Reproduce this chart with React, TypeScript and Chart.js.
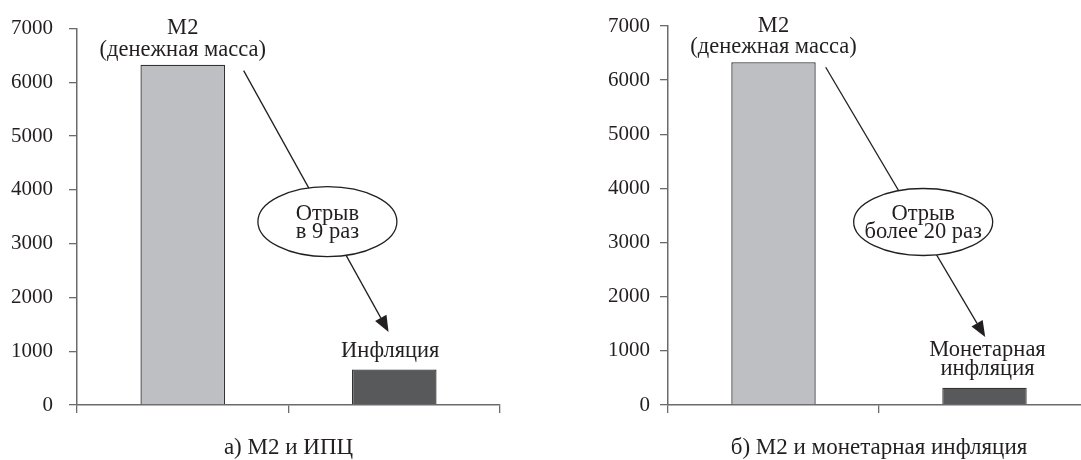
import React, { useEffect, useRef } from 'react';
import { Chart, registerables } from 'chart.js';

Chart.register(...registerables);

// ---- data ----
const categories = ['М2', 'Инфляция'];
const valuesA = [6330, 660];
const valuesB = [6330, 320];
const yMin = 0;
const yMax = 7000;
const yStep = 1000;
const barLabelsA = [['М2', '(денежная масса)'], ['Инфляция']];
const barLabelsB = [['М2', '(денежная масса)'], ['Монетарная', 'инфляция']];
const gapTextA = ['Отрыв', 'в 9 раз'];
const gapTextB = ['Отрыв', 'более 20 раз'];
const captionA = 'а) М2 и ИПЦ';
const captionB = 'б) М2 и монетарная инфляция';
const bubbleValueA = 3410;
const bubbleValueB = 3380;

// ---- styles ----
const FONT_FAMILY = '"Liberation Serif", "Times New Roman", serif';
const TICK_SIZE = 21;
const LABEL_SIZE = 22.5;
const CAPTION_SIZE = 23;
const TEXT = '#231f20';
const AXIS = '#6b6b6b';
const BAR_COLORS = ['#bebfc2', '#58595b'];
const BAR_BORDER = '#333333';

const annotPlugin = {
  id: 'annot',
  afterDatasetsDraw(chart: any, _args: any, opts: any) {
    const { ctx, chartArea } = chart;
    const meta = chart.getDatasetMeta(0);
    const b0 = meta.data[0] as any;
    const b1 = meta.data[1] as any;
    const yScale = chart.scales.y;
    ctx.save();
    ctx.fillStyle = TEXT;
    ctx.strokeStyle = TEXT;
    ctx.font = `${LABEL_SIZE}px ${FONT_FAMILY}`;
    ctx.textAlign = 'center';
    ctx.textBaseline = 'alphabetic';

    // bar labels
    (opts.barLabels as string[][]).forEach((lines, i) => {
      const bar = meta.data[i] as any;
      const gap = opts.labelGap[i];
      const lh = opts.labelLine[i];
      lines.forEach((t, k) => {
        const ty = bar.y - gap - (lines.length - 1 - k) * lh;
        ctx.fillText(t, bar.x + opts.labelDx[i], ty);
      });
    });

    // arrow
    const sx = b0.x + b0.width / 2 + opts.arrowStart[0];
    const sy = b0.y + opts.arrowStart[1];
    const ex = b1.x + opts.arrowEnd[0];
    const ey = b1.y + opts.arrowEnd[1];
    const ang = Math.atan2(ey - sy, ex - sx);
    const headLen = 16;
    const headHalf = 6.5;
    const bx = ex - headLen * Math.cos(ang);
    const by = ey - headLen * Math.sin(ang);
    ctx.lineWidth = 1.3;
    ctx.beginPath();
    ctx.moveTo(sx, sy);
    ctx.lineTo(bx, by);
    ctx.stroke();
    ctx.beginPath();
    ctx.moveTo(ex, ey);
    ctx.lineTo(bx + headHalf * Math.sin(ang), by - headHalf * Math.cos(ang));
    ctx.lineTo(bx - headHalf * Math.sin(ang), by + headHalf * Math.cos(ang));
    ctx.closePath();
    ctx.fill();

    // bubble
    const cy = yScale.getPixelForValue(opts.bubbleValue);
    const cx = sx + ((cy - sy) * (ex - sx)) / (ey - sy) + opts.bubbleDx;
    ctx.beginPath();
    ctx.ellipse(cx, cy, 69.5, opts.bubbleRy, 0, 0, Math.PI * 2);
    ctx.fillStyle = '#ffffff';
    ctx.fill();
    ctx.lineWidth = 1.3;
    ctx.stroke();
    ctx.fillStyle = TEXT;
    const gl = opts.gapText as string[];
    ctx.fillText(gl[0], cx, cy - 1.5);
    ctx.fillText(gl[1], cx, cy + 16.5);

    // caption
    ctx.font = `${CAPTION_SIZE}px ${FONT_FAMILY}`;
    ctx.fillText(opts.caption, (chartArea.left + chartArea.right) / 2, 454);
    ctx.restore();
  },
};

type PanelProps = {
  values: number[];
  left: number;
  width: number;
  axisWidth: number;
  tickPad: number;
  padRight: number;
  annot: any;
};

function Panel({ values, left, width, axisWidth, tickPad, padRight, annot }: PanelProps) {
  const ref = useRef<HTMLCanvasElement | null>(null);
  useEffect(() => {
    if (!ref.current) return;
    const font = { family: FONT_FAMILY, size: TICK_SIZE };
    const chart = new Chart(ref.current, {
      type: 'bar',
      data: {
        labels: categories,
        datasets: [
          {
            data: values,
            backgroundColor: BAR_COLORS,
            borderColor: BAR_BORDER,
            borderWidth: 1.3,
            barPercentage: 0.4,
            categoryPercentage: 1.0,
          },
        ],
      },
      plugins: [annotPlugin],
      options: {
        responsive: false,
        animation: false,
        devicePixelRatio: 1,
        layout: { padding: { left: 0, top: 26, right: padRight, bottom: 45 } },
        plugins: {
          legend: { display: false },
          tooltip: { enabled: false },
          title: { display: false },
          annot,
        } as any,
        scales: {
          x: {
            type: 'category',
            offset: true,
            grid: {
              offset: true,
              drawOnChartArea: false,
              drawTicks: true,
              tickLength: 8,
              color: AXIS,
              lineWidth: 1.3,
            },
            border: { display: true, color: AXIS, width: 1.5 },
            ticks: { display: false },
            afterFit: (s: any) => {
              s.height = 10;
            },
          },
          y: {
            min: yMin,
            max: yMax,
            grid: {
              drawOnChartArea: false,
              drawTicks: true,
              tickLength: 8,
              color: AXIS,
              lineWidth: 1.3,
            },
            border: { display: true, color: AXIS, width: 1.5 },
            ticks: {
              stepSize: yStep,
              color: TEXT,
              font,
              padding: tickPad,
              callback: (v: any) => String(v),
            },
            afterFit: (s: any) => {
              s.width = axisWidth;
            },
          },
        },
      } as any,
    });
    return () => chart.destroy();
  }, []);
  return (
    <div style={{ position: 'absolute', left, top: 0, width, height: 460 }}>
      <canvas ref={ref} width={width} height={460} style={{ display: 'block' }} />
    </div>
  );
}

export default function App() {
  return (
    <div
      style={{
        position: 'absolute',
        left: 0,
        top: 0,
        width: 1081,
        height: 460,
        overflow: 'hidden',
        background: '#ffffff',
      }}
    >
      <Panel
        values={valuesA}
        left={0}
        width={540}
        axisWidth={77}
        tickPad={16}
        padRight={40}
        annot={{
          barLabels: barLabelsA,
          labelGap: [9, 12.6],
          labelLine: [21.6, 19.5],
          labelDx: [0, -4],
          arrowStart: [18.6, 6],
          arrowEnd: [-5.7, -37.6],
          bubbleValue: bubbleValueA,
          bubbleDx: 0,
          bubbleRy: 35,
          gapText: gapTextA,
          caption: captionA,
        }}
      />
      <Panel
        values={valuesB}
        left={540}
        width={560}
        axisWidth={128}
        tickPad={10}
        padRight={10}
        annot={{
          barLabels: barLabelsB,
          labelGap: [9, 12.3],
          labelLine: [21.6, 19.5],
          labelDx: [0, 3],
          arrowStart: [10, 5],
          arrowEnd: [0.7, -50.6],
          bubbleValue: bubbleValueB,
          bubbleDx: 6,
          bubbleRy: 33.5,
          gapText: gapTextB,
          caption: captionB,
        }}
      />
    </div>
  );
}
